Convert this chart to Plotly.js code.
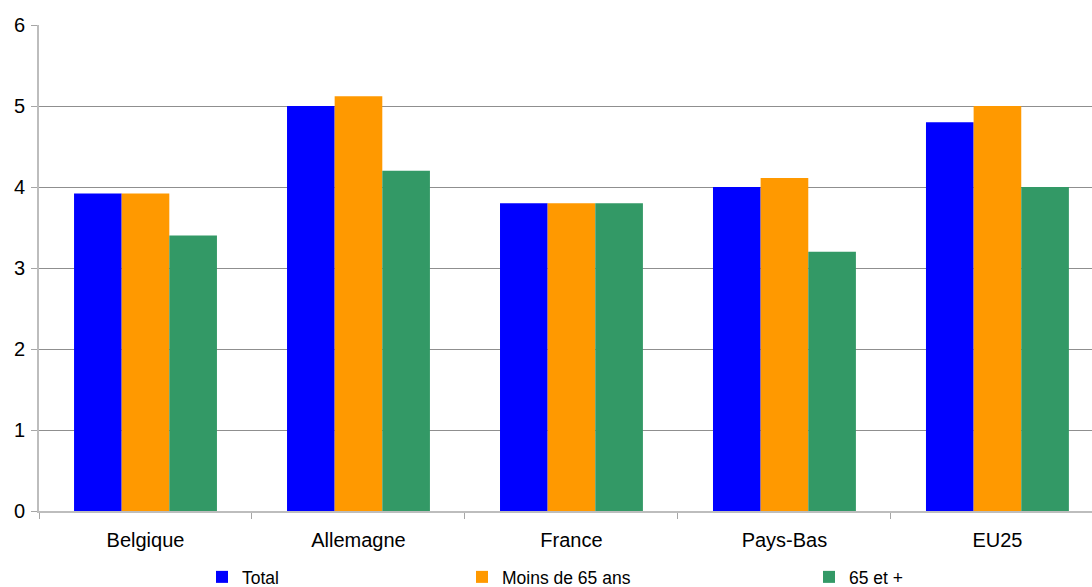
<!DOCTYPE html>
<html>
<head>
<meta charset="utf-8">
<script src="https://cdn.plot.ly/plotly-3.0.1.min.js"></script>
<style>
  html, body { margin: 0; padding: 0; background: #fff; overflow: hidden; }
  #chart { width: 1092px; height: 587px; }
</style>
</head>
<body>
<div id="chart"></div>
<script>
// Countries / regions on the x axis
const categories = ['Belgique', 'Allemagne', 'France', 'Pays-Bas', 'EU25'];

// Series values
const total      = [3.92, 5.0, 3.8, 4.0, 4.8];
const moins65    = [3.92, 5.12, 3.8, 4.11, 5.0];
const plus65     = [3.4, 4.2, 3.8, 3.2, 4.0];

const seriesNames  = ['Total', 'Moins de 65 ans', '65 et +'];
const seriesColors = ['#0000FF', '#FF9900', '#339966'];
const yTickValues  = [0, 1, 2, 3, 4, 5, 6];

const FONT = '"Liberation Sans", Arial, sans-serif';

const seriesData = [total, moins65, plus65];
const legendIds = ['legend', 'legend2', 'legend3'];

const traces = seriesData.map((vals, i) => ({
  type: 'bar',
  x: categories,
  y: vals,
  name: seriesNames[i],
  marker: { color: seriesColors[i], line: { width: 0 } },
  legend: legendIds[i],
  hoverinfo: 'x+y+name'
}));

// one single-entry legend per series, spread along the bottom edge
function legendAt(xPx) {
  return {
    orientation: 'h',
    xref: 'container', yref: 'container',
    x: xPx / 1092, y: 1 - 577 / 587,
    xanchor: 'left', yanchor: 'middle',
    font: { family: FONT, size: 17.5, color: '#000' },
    bgcolor: 'rgba(0,0,0,0)',
    borderwidth: 0,
    itemwidth: 30
  };
}

const layout = {
  width: 1092,
  height: 587,
  margin: { l: 39, r: 0, t: 25, b: 76, pad: 0 },
  paper_bgcolor: '#fff',
  plot_bgcolor: '#fff',
  font: { family: FONT, size: 20, color: '#000' },
  barmode: 'group',
  bargap: 0.329,
  bargroupgap: 0,
  showlegend: true,
  legend: legendAt(202),
  legend2: legendAt(462),
  legend3: legendAt(809),
  xaxis: {
    type: 'category',
    range: [-0.5, 4.444],
    tickson: 'boundaries',
    ticks: 'outside',
    ticklen: 6,
    tickcolor: '#a6a6a6',
    tickwidth: 1,
    showline: true,
    linecolor: '#bdbdbd',
    linewidth: 2,
    showgrid: false,
    zeroline: false,
    ticklabelstandoff: 10,
    tickfont: { family: FONT, size: 20, color: '#000' },
    fixedrange: true
  },
  yaxis: {
    range: [0, 6],
    tickvals: yTickValues,
    ticktext: yTickValues.map(String),
    ticks: 'outside',
    ticklen: 6,
    tickcolor: '#a6a6a6',
    tickwidth: 1,
    showline: true,
    linecolor: '#bdbdbd',
    linewidth: 2,
    showgrid: true,
    gridcolor: '#8f8f8f',
    gridwidth: 1,
    zeroline: false,
    ticklabelstandoff: 2,
    tickfont: { family: FONT, size: 20, color: '#000' },
    fixedrange: true
  }
};

Plotly.newPlot('chart', traces, layout, { displayModeBar: false, staticPlot: true });
</script>
</body>
</html>
